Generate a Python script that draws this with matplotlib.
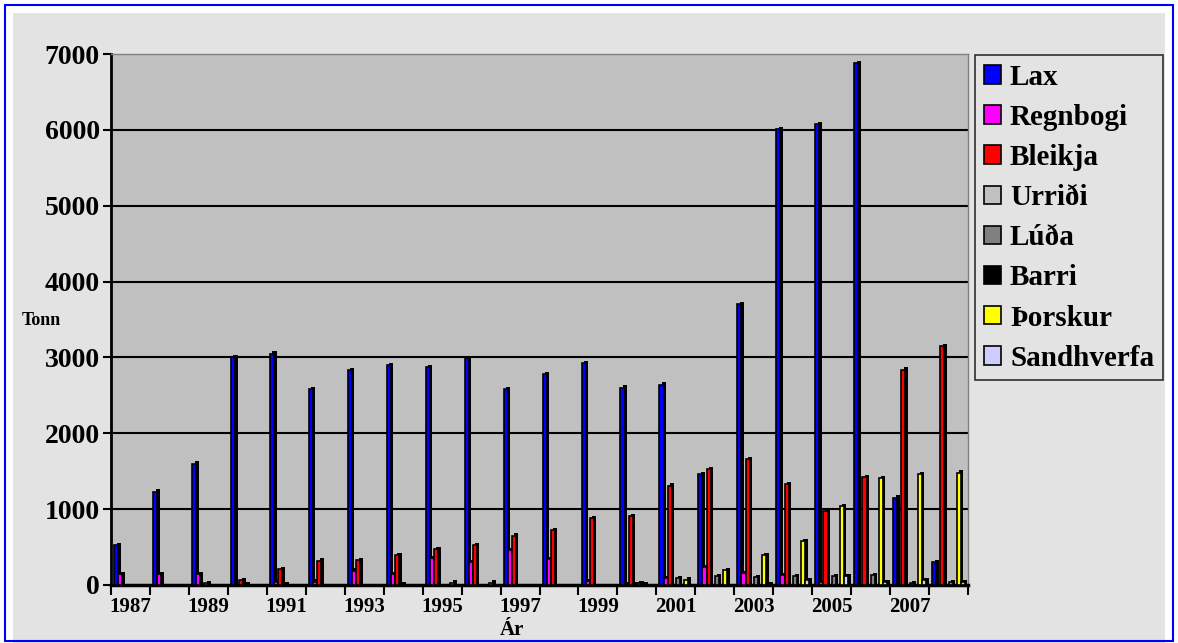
import numpy as np
import matplotlib
matplotlib.use("Agg")
import matplotlib.pyplot as plt
from matplotlib.patches import Rectangle

# ársafli í eldi, tonn
years = list(range(1987, 2009))
series_names = ["Lax", "Regnbogi", "Bleikja", "Urriði", "Lúða", "Barri", "Þorskur", "Sandhverfa"]
series_colors = ["#0000FF", "#FF00FF", "#FF0000", "#C0C0C0", "#808080", "#000000", "#FFFF00", "#CCCCFF"]

lax = [530, 1230, 1600, 3000, 3050, 2580, 2830, 2900, 2870, 2990, 2580,
       2780, 2920, 2600, 2640, 1460, 3700, 6010, 6080, 6880, 1150, 300]
regnbogi = [140, 140, 140, 0, 35, 45, 190, 145, 350, 300, 460,
            340, 50, 15, 90, 240, 160, 130, 40, 0, 0, 0]
bleikja = [0, 0, 0, 65, 210, 320, 330, 395, 470, 530, 650,
           720, 880, 910, 1310, 1530, 1660, 1330, 980, 1420, 2840, 3150]
urridi = [0, 0, 20, 15, 15, 0, 0, 10, 0, 0, 0,
          0, 0, 15, 0, 0, 0, 0, 0, 0, 0, 0]
luda = [0, 0, 0, 0, 0, 0, 0, 0, 0, 0, 0,
        0, 0, 20, 90, 120, 100, 120, 120, 130, 20, 40]
barri = [0, 0, 0, 0, 0, 0, 0, 0, 0, 0, 0,
         0, 0, 10, 0, 0, 0, 0, 0, 0, 0, 0]
thorskur = [0, 0, 0, 0, 0, 0, 0, 0, 30, 30, 0,
            0, 0, 0, 70, 200, 390, 580, 1040, 1410, 1460, 1480]
sandhverfa = [0, 0, 0, 0, 0, 0, 0, 0, 0, 0, 0,
              0, 0, 0, 0, 0, 15, 60, 120, 40, 60, 40]

all_series = [lax, regnbogi, bleikja, urridi, luda, barri, thorskur, sandhverfa]

W, H = 1178, 643
fig = plt.figure(figsize=(W / 100, H / 100), dpi=100, facecolor="white")

# ramminn og bakgrunnurinn
fig.patches.append(Rectangle((13 / W, 0), 1 - 26 / W, 1 - 13 / H, transform=fig.transFigure,
                             facecolor="#E3E3E3", edgecolor="none", zorder=-5))
fig.patches.append(Rectangle((5 / W, 2 / H), 1 - 10 / W, 1 - 7 / H, transform=fig.transFigure,
                             facecolor="none", edgecolor="#0000FF", linewidth=1.5, zorder=10))

ax = fig.add_axes([111 / W, 1 - 585 / H, (968 - 111) / W, (585 - 54) / H])
ax.set_facecolor("#C0C0C0")
ax.set_zorder(2)

n_groups = len(years)
n_series = len(all_series)
bar_w = 1 / 9.5
offset = (1 - n_series * bar_w) / 2
depth_x = 0.065
depth_y = 30

x = np.arange(n_groups)
handles = []
for j, (vals, col) in enumerate(zip(all_series, series_colors)):
    vals = np.array(vals, dtype=float)
    left = x + offset + j * bar_w
    mask = vals > 0
    # dýptin (skuggahliðin) á súlunum
    ax.bar(left[mask] + depth_x, vals[mask] + depth_y, width=bar_w, align="edge",
           color="black", linewidth=0, zorder=3 + j * 0.1)
    bars = ax.bar(left, vals, width=bar_w, align="edge", color=col,
                  edgecolor="black", linewidth=1.2, zorder=3.05 + j * 0.1)
    handles.append(bars)

ax.set_xlim(0, n_groups)
ax.set_ylim(0, 7000)
ax.set_yticks(np.arange(0, 8000, 1000))
for g in range(1000, 7000, 1000):
    ax.axhline(g, color="black", linewidth=1.5, zorder=1)

serif = "Liberation Serif"
ax.set_yticklabels([str(v) for v in range(0, 8000, 1000)], fontfamily=serif,
                   fontweight="bold", fontsize=20)
ax.tick_params(axis="y", direction="out", length=6, width=1.5, pad=2)

ax.set_xticks(np.arange(0, n_groups + 1))
ax.set_xticklabels([])
ax.tick_params(axis="x", which="major", direction="out", length=7, width=1.5)
ax.set_xticks(x[::2] + 0.5, minor=True)
ax.set_xticklabels([str(y) for y in years[::2]], minor=True, fontfamily=serif,
                   fontweight="bold", fontsize=15)
ax.tick_params(axis="x", which="minor", length=0, pad=9)

ax.spines["left"].set_linewidth(2)
ax.spines["bottom"].set_linewidth(2.5)
for s in ("top", "right"):
    ax.spines[s].set_color("#808080")
    ax.spines[s].set_linewidth(1)

fig.text(22 / W, 1 - 320 / H, "Tonn", fontfamily=serif, fontweight="bold",
         fontsize=13, ha="left", va="center", zorder=3)
fig.text(512 / W, 1 - 630 / H, "Ár", fontfamily=serif, fontweight="bold",
         fontsize=15, ha="center", va="center", zorder=3)

leg = fig.legend(handles, series_names, loc="upper left",
                 bbox_to_anchor=(975 / W, 1 - 55 / H), bbox_transform=fig.transFigure,
                 borderaxespad=0, prop={"family": serif, "weight": "bold", "size": 21},
                 handlelength=0.6, handleheight=0.6, handletextpad=0.3,
                 labelspacing=0.45, borderpad=0.3, fancybox=False, frameon=True)
leg.get_frame().set_edgecolor("black")
leg.get_frame().set_facecolor("none")
leg.get_frame().set_linewidth(1.2)
leg.set_zorder(4)

fig.savefig("out.png", dpi=100, facecolor=fig.get_facecolor())
